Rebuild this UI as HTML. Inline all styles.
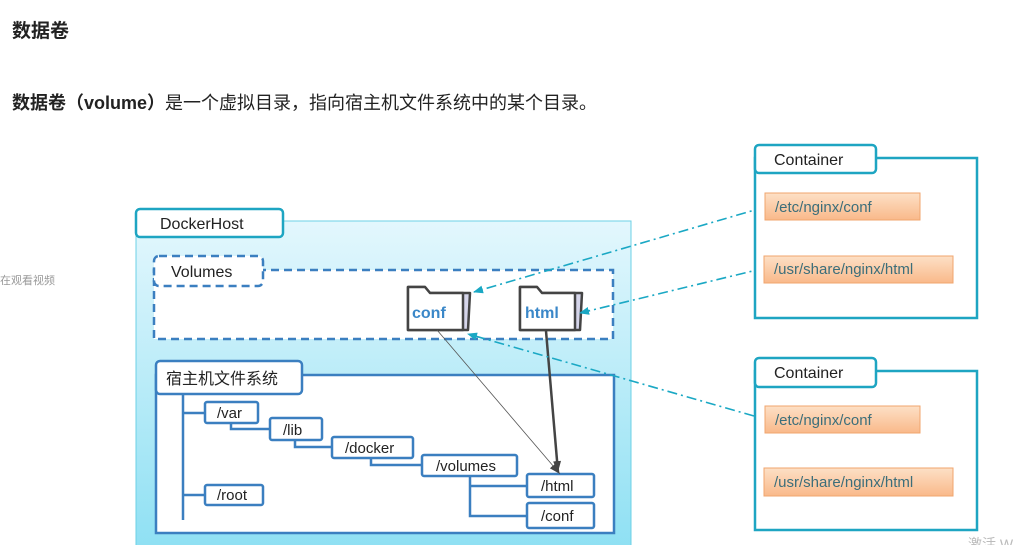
<!DOCTYPE html>
<html><head><meta charset="utf-8"><style>
body{margin:0;width:1027px;height:545px;overflow:hidden;background:#fff;font-family:"Liberation Sans","Noto Sans CJK SC",sans-serif;}
</style></head><body>
<svg width="1027" height="545" viewBox="0 0 1027 545" xmlns="http://www.w3.org/2000/svg" style="position:absolute;left:0;top:0;font-family:'Liberation Sans','Noto Sans CJK SC',sans-serif">
<defs>
<linearGradient id="g" x1="0" y1="0" x2="0" y2="1"><stop offset="0" stop-color="#e3f7fd"/><stop offset="1" stop-color="#8ee0f3"/></linearGradient>
<linearGradient id="o" x1="0" y1="0" x2="0" y2="1"><stop offset="0" stop-color="#fde0c6"/><stop offset="1" stop-color="#f9b98a"/></linearGradient>
<marker id="a" markerUnits="userSpaceOnUse" markerWidth="10" markerHeight="10" refX="9" refY="4" orient="auto"><path d="M0,0 L10,4 L0,8 z" fill="#1aa8c4"/></marker>
<marker id="b" markerUnits="userSpaceOnUse" markerWidth="12" markerHeight="10" refX="11" refY="4" orient="auto"><path d="M0,0 L11,4 L0,8 z" fill="#444"/></marker>
</defs>
<text x="12" y="37" font-size="19" font-weight="bold" fill="#222">数据卷</text>
<text x="12" y="109" font-size="18" fill="#222"><tspan font-weight="bold">数据卷（volume）</tspan>是一个虚拟目录，指向宿主机文件系统中的某个目录。</text>
<text x="0" y="284" font-size="11" fill="#999">在观看视频</text>

<rect x="136" y="221" width="495" height="330" fill="url(#g)" stroke="#6cd0e6" stroke-width="1"/>
<rect x="136" y="209" width="147" height="28" rx="4" fill="#fff" stroke="#1ea5c2" stroke-width="2.5"/>
<text x="160" y="229" font-size="16" fill="#222">DockerHost</text>

<rect x="154" y="270" width="459" height="69" fill="#fff" stroke="#3b7fc0" stroke-width="2.5" stroke-dasharray="8,5"/>
<rect x="154" y="256" width="109" height="30" rx="5" fill="#fff" stroke="#3b7fc0" stroke-width="2.5" stroke-dasharray="8,5"/>
<text x="171" y="277" font-size="16" fill="#222">Volumes</text>

<g stroke="#444" stroke-width="2.5" fill="#fff" stroke-linejoin="round">
<path d="M408,330 L408,287 L425,287 L430,293 L470,293 L468,330 Z" fill="#d5d5ea"/>
<path d="M408,330 L408,287 L425,287 L430,293 L463,293 L463,330 Z"/>
<path d="M520,330 L520,287 L537,287 L542,293 L582,293 L580,330 Z" fill="#d5d5ea"/>
<path d="M520,330 L520,287 L537,287 L542,293 L575,293 L575,330 Z"/>
</g>
<text x="412" y="318" font-size="16" font-weight="bold" fill="#3a87c8">conf</text>
<text x="525" y="318" font-size="16" font-weight="bold" fill="#3a87c8">html</text>

<rect x="156" y="375" width="458" height="158" fill="#fff" stroke="#3b7fc0" stroke-width="2.5"/>
<rect x="156" y="361" width="146" height="33" rx="4" fill="#fff" stroke="#3b7fc0" stroke-width="2.5"/>
<text x="166" y="384" font-size="16" fill="#222">宿主机文件系统</text>

<g stroke="#3b7fc0" stroke-width="2.5" fill="none">
<path d="M183,395 V520 M183,413 H205 M183,495 H205"/>
<path d="M231,423 V429 H270 M295,440 V447 H332 M371,458 V465 H422 M470,476 V516 H527 M470,486 H527"/>
</g>
<g stroke="#3b7fc0" stroke-width="2.5" fill="#fff">
<rect x="205" y="402" width="53" height="21" rx="2"/>
<rect x="270" y="418" width="52" height="22" rx="2"/>
<rect x="332" y="437" width="81" height="21" rx="2"/>
<rect x="422" y="455" width="95" height="21" rx="2"/>
<rect x="527" y="474" width="67" height="23" rx="2"/>
<rect x="527" y="503" width="67" height="25" rx="2"/>
<rect x="205" y="485" width="58" height="20" rx="2"/>
</g>
<g font-size="15" fill="#222">
<text x="217" y="418">/var</text><text x="283" y="435">/lib</text><text x="345" y="453">/docker</text>
<text x="436" y="471">/volumes</text><text x="541" y="491">/html</text><text x="541" y="521">/conf</text>
<text x="217" y="500">/root</text>
</g>

<line x1="437" y1="330" x2="560" y2="474" stroke="#555" stroke-width="0.8" marker-end="url(#b)"/>
<line x1="546" y1="331" x2="558" y2="472" stroke="#444" stroke-width="2.5" marker-end="url(#b)"/>

<g stroke="#1aa8c4" stroke-width="1.6" fill="none" stroke-dasharray="10,4,2,4" marker-end="url(#a)">
<line x1="765" y1="207" x2="474" y2="292"/>
<line x1="765" y1="268" x2="580" y2="313"/>
<line x1="754" y1="416" x2="468" y2="334"/>
</g>

<g>
<rect x="755" y="158" width="222" height="160" fill="#fff" stroke="#1ea5c2" stroke-width="2.5"/>
<rect x="755" y="145" width="121" height="28" rx="4" fill="#fff" stroke="#1ea5c2" stroke-width="2.5"/>
<text x="774" y="165" font-size="16" fill="#222">Container</text>
<rect x="765" y="193" width="155" height="27" fill="url(#o)" stroke="#f0a56e"/>
<text x="775" y="212" font-size="15" fill="#3c6e7a">/etc/nginx/conf</text>
<rect x="764" y="256" width="189" height="27" fill="url(#o)" stroke="#f0a56e"/>
<text x="774" y="274" font-size="15" fill="#3c6e7a">/usr/share/nginx/html</text>

<rect x="755" y="371" width="222" height="159" fill="#fff" stroke="#1ea5c2" stroke-width="2.5"/>
<rect x="755" y="358" width="121" height="29" rx="4" fill="#fff" stroke="#1ea5c2" stroke-width="2.5"/>
<text x="774" y="378" font-size="16" fill="#222">Container</text>
<rect x="765" y="406" width="155" height="27" fill="url(#o)" stroke="#f0a56e"/>
<text x="775" y="425" font-size="15" fill="#3c6e7a">/etc/nginx/conf</text>
<rect x="764" y="468" width="189" height="28" fill="url(#o)" stroke="#f0a56e"/>
<text x="774" y="487" font-size="15" fill="#3c6e7a">/usr/share/nginx/html</text>
</g>
<text x="968" y="549" font-size="14" fill="#bbb">激活 W</text>
</svg>
</body></html>
